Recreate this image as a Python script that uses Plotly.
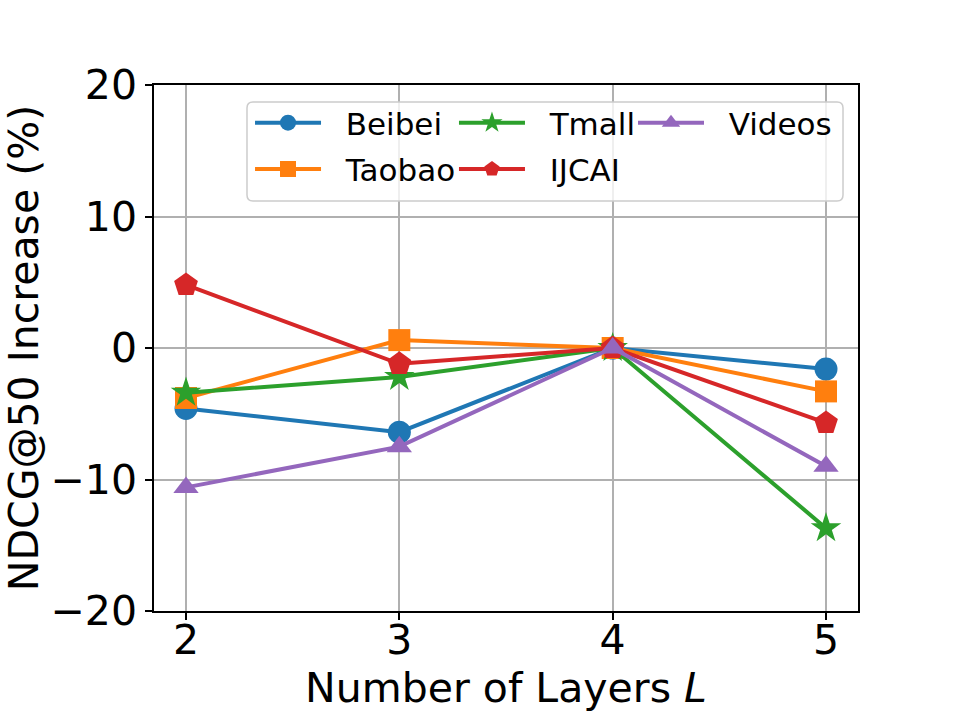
import plotly.graph_objects as go

layers = [2, 3, 4, 5]
beibei = [-4.6, -6.4, 0.0, -1.6]
taobao = [-3.8, 0.6, 0.0, -3.3]
tmall = [-3.4, -2.2, 0.0, -13.7]
ijcai = [4.8, -1.2, 0.0, -5.7]
videos = [-10.6, -7.5, 0.0, -9.0]

series = [
    ("Beibei", beibei, "#1f77b4", "circle", 23, "legend"),
    ("Taobao", taobao, "#ff7f0e", "square", 22, "legend"),
    ("Tmall", tmall, "#2ca02c", "star", 23, "legend2"),
    ("IJCAI", ijcai, "#d62728", "pentagon", 25, "legend2"),
    ("Videos", videos, "#9467bd", "triangle-up", 22, "legend3"),
]

fig = go.Figure()
for name, vals, color, sym, msize, leg in series:
    fig.add_trace(go.Scatter(
        x=layers, y=vals, name="\u00a0\u00a0" + name, mode="lines+markers",
        line=dict(color=color, width=4),
        marker=dict(symbol=sym, size=msize, color=color, line=dict(width=0)),
        legend=leg, legendgroup=name,
    ))

font = "DejaVu Sans"
legfont = dict(family=font, size=31, color="black")


def leg(x):
    return dict(
        orientation="v", x=x, y=0.979, xanchor="left", yanchor="top",
        font=legfont, bgcolor="rgba(0,0,0,0)", borderwidth=0,
        itemwidth=66, tracegroupgap=3, traceorder="grouped",
    )


# rounded legend frame (paper coords)
x0, x1, y0, y1 = 0.1321, 0.9787, 0.7795, 0.9677
rx, ry = 0.0085, 0.0114
frame = (f"M {x0+rx},{y0} L {x1-rx},{y0} Q {x1},{y0} {x1},{y0+ry} "
         f"L {x1},{y1-ry} Q {x1},{y1} {x1-rx},{y1} L {x0+rx},{y1} "
         f"Q {x0},{y1} {x0},{y1-ry} L {x0},{y0+ry} Q {x0},{y0} {x0+rx},{y0} Z")

fig.update_layout(
    width=955, height=716,
    margin=dict(l=154, r=97, t=85, b=105, autoexpand=False),
    plot_bgcolor="white", paper_bgcolor="white",
    font=dict(family=font, size=41, color="black"),
    showlegend=True,
    legend=leg(0.1364),
    legend2=leg(0.4261),
    legend3=leg(0.6804),
    shapes=[dict(type="path", path=frame, xref="paper", yref="paper",
                 fillcolor="rgba(255,255,255,0.8)",
                 line=dict(color="#cccccc", width=1.5), layer="above")],
    xaxis=dict(
        range=[1.85, 5.15], tickvals=layers, ticktext=[str(v) for v in layers],
        showgrid=True, gridcolor="#b0b0b0", gridwidth=1.6,
        showline=True, linecolor="black", linewidth=1.6, mirror=True,
        ticks="outside", ticklen=7, tickwidth=1.6, tickcolor="black",
        zeroline=False, automargin=False, ticklabelstandoff=-15,
        title=dict(text="Number of Layers <i>L</i>", font=dict(size=41), standoff=2),
        tickfont=dict(size=41),
    ),
    yaxis=dict(
        range=[-20, 20], tickvals=[-20, -10, 0, 10, 20],
        showgrid=True, gridcolor="#b0b0b0", gridwidth=1.6,
        showline=True, linecolor="black", linewidth=1.6, mirror=True,
        ticks="outside", ticklen=7, tickwidth=1.6, tickcolor="black",
        zeroline=False, automargin=False,
        title=dict(text="NDCG@50 Increase (%)", font=dict(size=41), standoff=10),
        tickfont=dict(size=41),
    ),
)

fig.write_html("out.html", config={"displayModeBar": False},
               post_script="document.body.style.margin='0';document.body.style.overflow='hidden';")
